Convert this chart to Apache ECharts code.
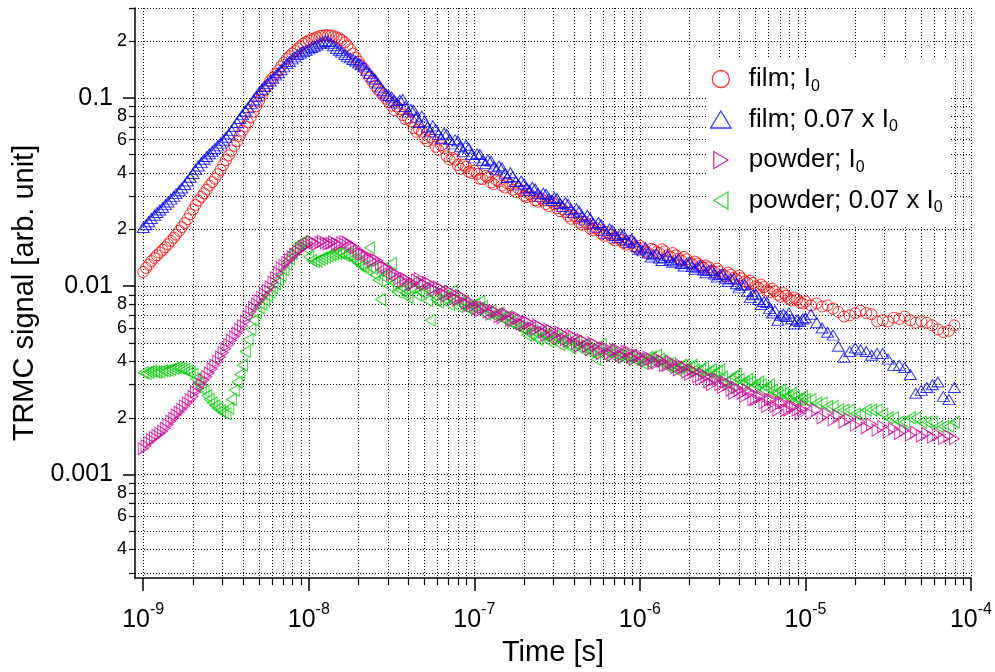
<!DOCTYPE html>
<html><head><meta charset="utf-8">
<script src="https://cdn.jsdelivr.net/npm/echarts@6/dist/echarts.min.js"></script>
<style>html,body{margin:0;padding:0;background:#fff}#chart{width:995px;height:672px}</style>
</head><body><div id="chart"></div>
<script>
// ---- data (time in ns, signal in arb. unit) ----
const timeNs = [1,1.08,1.17,1.26,1.36,1.47,1.58,1.71,1.85,2,2.15,2.33,2.51,2.71,2.93,3.16,3.41,3.69,3.98,4.3,4.64,5.01,5.41,5.84,6.31,6.81,7.36,7.94,8.58,9.26,
10,10.8,11.7,12.6,13.6,14.7,15.8,17.1,18.5,20,21.5,23.3,25.1,27.1,29.3,31.6,34.1,36.9,39.8,43,46.4,50.1,54.1,58.4,63.1,68.1,73.6,79.4,85.8,92.6,
100,108,117,126,136,147,158,171,185,200,215,233,251,271,293,316,341,369,398,430,464,501,541,584,631,681,736,794,858,926,
1000,1080,1170,1260,1360,1470,1580,1710,1850,2000,2150,2330,2510,2710,2930,3160,3410,3690,3980,4300,4640,5010,5410,5840,6310,6810,7360,7940,8580,9260,
10000,10800,11700,12600,13600,14700,15800,17100,18500,20000,21500,23300,25100,27100,29300,31600,34100,36900,39800,43000,46400,50100,54100,58400,63100,68100,73600,79400];

const filmI0 = [0.0119,0.0130,0.0141,0.0151,0.0161,0.0174,0.0188,0.0206,0.0227,0.0256,0.0285,0.0311,0.0342,0.0372,0.0415,0.0467,0.0525,0.0588,0.0670,0.0740,0.0845,0.0963,0.110,0.123,0.134,0.147,0.161,0.172,0.183,0.194,
0.202,0.207,0.213,0.215,0.214,0.210,0.203,0.190,0.172,0.156,0.143,0.128,0.116,0.107,0.099,0.091,0.090,0.081,0.078,0.069,0.068,0.061,0.062,0.055,0.056,0.049,0.048,0.044,0.044,0.0405,
0.0410,0.0372,0.0385,0.0355,0.0365,0.0342,0.0352,0.0325,0.0330,0.0302,0.0308,0.0286,0.0294,0.0273,0.0281,0.0259,0.0257,0.0236,0.0237,0.0218,0.0220,0.0202,0.0204,0.0190,0.0194,0.0179,0.0182,0.0170,0.0174,0.0162,
0.0164,0.0153,0.0158,0.0152,0.0157,0.0146,0.0150,0.0140,0.0143,0.0133,0.0135,0.0128,0.0129,0.0121,0.0124,0.0115,0.0118,0.0111,0.0114,0.0106,0.0107,0.0100,0.0102,0.0095,0.0097,0.0090,0.0092,0.0086,0.0087,0.0082,
0.0083,0.0079,0.0081,0.0078,0.0079,0.0076,0.0073,0.0069,0.0070,0.0072,0.0074,0.0072,0.0071,0.0065,0.0066,0.0065,0.0068,0.0067,0.0069,0.0066,0.0064,0.0065,0.0064,0.0062,0.0059,0.0057,0.0058,0.0062];

const film007 = [0.0205,0.0220,0.0238,0.0254,0.0271,0.0290,0.0310,0.0332,0.0362,0.0397,0.0435,0.0472,0.0505,0.0538,0.0575,0.0618,0.0670,0.0740,0.0815,0.0890,0.0975,0.107,0.115,0.123,0.132,0.141,0.152,0.161,0.170,0.176,
0.182,0.188,0.195,0.201,0.195,0.183,0.175,0.166,0.160,0.153,0.146,0.135,0.126,0.114,0.105,0.101,0.094,0.098,0.084,0.086,0.074,0.075,0.066,0.068,0.061,0.064,0.057,0.059,0.052,0.054,
0.048,0.050,0.0447,0.0462,0.0415,0.0425,0.0378,0.0382,0.0345,0.0350,0.0322,0.0328,0.0300,0.0308,0.0285,0.0292,0.0265,0.0272,0.0246,0.0250,0.0225,0.0230,0.0206,0.0212,0.0191,0.0198,0.0181,0.0188,0.0171,0.0172,
0.0157,0.0160,0.0143,0.0149,0.0137,0.0145,0.0134,0.0139,0.0128,0.0134,0.0123,0.0129,0.0118,0.0122,0.0112,0.0116,0.0106,0.0110,0.0098,0.0102,0.0087,0.0091,0.0080,0.0082,0.0072,0.0066,0.0071,0.0072,0.0063,0.0065,
0.0068,0.0071,0.0064,0.0060,0.0057,0.0055,0.0048,0.0042,0.0045,0.0047,0.0046,0.0045,0.0043,0.0044,0.0044,0.0041,0.0038,0.0038,0.0037,0.0034,0.0027,0.0028,0.0029,0.0030,0.0031,0.0026,0.0025,0.0029];

const powderI0 = [0.00137,0.00148,0.00157,0.00165,0.00176,0.00192,0.00207,0.00222,0.00240,0.00260,0.00288,0.00317,0.00346,0.00380,0.00421,0.00466,0.00515,0.00563,0.00616,0.00690,0.00770,0.00840,0.00910,0.00990,0.0111,0.0125,0.0134,0.0143,0.0153,0.0162,
0.0168,0.0170,0.0171,0.0170,0.0169,0.0168,0.0170,0.0171,0.0162,0.0153,0.0148,0.0140,0.0139,0.0131,0.0126,0.0115,0.0115,0.0106,0.0107,0.0103,0.0110,0.0102,0.0103,0.0095,0.0097,0.0089,0.0092,0.0085,0.0087,0.0079,
0.0079,0.0074,0.0077,0.0071,0.0073,0.0068,0.0071,0.0065,0.0068,0.0062,0.0064,0.0059,0.0061,0.0055,0.0058,0.0053,0.0056,0.0051,0.0054,0.0048,0.0051,0.0046,0.0049,0.0044,0.0047,0.0043,0.0046,0.0042,0.0045,0.0041,
0.0043,0.0040,0.0041,0.0039,0.0040,0.0038,0.0039,0.0036,0.0037,0.0034,0.0035,0.0032,0.0033,0.0030,0.0032,0.0029,0.0030,0.0027,0.0028,0.0026,0.0027,0.0025,0.0026,0.0023,0.0025,0.0022,0.0024,0.0022,0.0023,0.0021,
0.0023,0.0021,0.0022,0.0020,0.0021,0.00195,0.00205,0.0019,0.00197,0.00183,0.0019,0.00177,0.00185,0.00172,0.0018,0.00168,0.00175,0.00165,0.00172,0.00162,0.00168,0.0016,0.00165,0.00158,0.00163,0.00155,0.0016,0.00155];

const powder007 = [0.00347,0.00350,0.00352,0.00352,0.00355,0.00362,0.00370,0.00365,0.00355,0.00340,0.00305,0.00278,0.00250,0.00232,0.00218,0.00210,0.00250,0.00310,0.00380,0.00520,0.00660,0.00770,0.00840,0.00930,0.0103,0.0114,0.0131,0.0149,0.0166,0.0172,
0.0143,0.0135,0.0139,0.0143,0.0147,0.0149,0.0150,0.0148,0.0140,0.0132,0.0127,0.0160,0.0115,0.0085,0.0116,0.0132,0.0093,0.0098,0.0087,0.0105,0.0095,0.0098,0.0066,0.0085,0.0094,0.0088,0.0094,0.0078,0.0083,0.0076,
0.0080,0.0083,0.0071,0.0074,0.0070,0.0068,0.0069,0.0066,0.0061,0.0059,0.0056,0.0054,0.0057,0.0055,0.0052,0.0053,0.0051,0.0049,0.0050,0.0048,0.0049,0.0045,0.0041,0.0049,0.0045,0.0044,0.0043,0.0043,0.0042,0.0041,
0.0041,0.0040,0.0042,0.0043,0.0040,0.0038,0.0037,0.0037,0.0038,0.0037,0.0036,0.0036,0.0034,0.0036,0.0035,0.0033,0.0029,0.0033,0.0032,0.0031,0.0031,0.0030,0.0030,0.0029,0.0028,0.0027,0.0027,0.0026,0.0026,0.0025,
0.0025,0.0025,0.0024,0.0024,0.0023,0.0023,0.0022,0.0022,0.0022,0.0021,0.0021,0.0022,0.0022,0.0022,0.0021,0.0020,0.0020,0.0019,0.0019,0.0020,0.0020,0.0019,0.0019,0.0019,0.0018,0.0018,0.0018,0.0019];

// second, interleaved set of readings (1 ns - 10 us), where the recorded points are denser
const timeNsMid = [1.04,1.12,1.21,1.31,1.41,1.53,1.65,1.78,1.92,2.07,2.24,2.42,2.61,2.82,3.04,3.29,3.55,3.83,4.14,4.47,4.82,5.21,5.62,6.07,6.56,7.08,7.64,8.25,8.91,9.62,
10.4,11.2,12.1,13.1,14.1,15.3,16.5,17.8,19.2,20.7,22.4,24.2,26.1,28.2,30.4,32.9,35.5,38.3,41.4,44.7,48.2,52.1,56.2,60.7,65.6,70.8,76.4,82.5,89.1,96.2,
104,112,121,131,141,153,165,178,192,207,224,242,261,282,304,329,355,383,414,447,482,521,562,607,656,708,764,825,891,962,
1040,1120,1210,1310,1410,1530,1650,1780,1920,2070,2240,2420,2610,2820,3040,3290,3550,3830,4140,4470,4820,5210,5620,6070,6560,7080,7640,8250,8910,9620];

const filmI0Mid = [0.0125,0.0136,0.0146,0.0156,0.0167,0.0181,0.0197,0.0216,0.0241,0.0270,0.0298,0.0326,0.0357,0.0393,0.0440,0.0495,0.0556,0.0628,0.0704,0.0791,0.0902,0.103,0.116,0.128,0.140,0.154,0.166,0.177,0.188,0.198,
0.205,0.210,0.214,0.215,0.212,0.207,0.197,0.181,0.164,0.149,0.135,0.122,0.111,0.103,0.095,0.086,0.087,0.077,0.075,0.066,0.066,0.059,0.060,0.053,0.054,0.047,0.047,0.042,0.043,0.0398,
0.0395,0.0370,0.0378,0.0348,0.0360,0.0334,0.0345,0.0316,0.0322,0.0297,0.0300,0.0281,0.0285,0.0266,0.0272,0.0250,0.0248,0.0228,0.0230,0.0212,0.0213,0.0198,0.0199,0.0185,0.0188,0.0175,0.0176,0.0166,0.0169,0.0160,
0.0159,0.0150,0.0156,0.0150,0.0153,0.0143,0.0146,0.0137,0.0139,0.0131,0.0132,0.0125,0.0126,0.0119,0.0120,0.0113,0.0115,0.0109,0.0110,0.0104,0.0104,0.0098,0.0099,0.0093,0.0094,0.0088,0.0089,0.0084,0.0085,0.0081];

const film007Mid = [0.0212,0.0229,0.0246,0.0262,0.0280,0.0300,0.0321,0.0347,0.0379,0.0416,0.0453,0.0488,0.0521,0.0556,0.0596,0.0643,0.0704,0.0777,0.0852,0.0932,0.102,0.111,0.119,0.127,0.136,0.146,0.156,0.165,0.173,0.179,
0.185,0.191,0.198,0.199,0.189,0.179,0.170,0.163,0.157,0.150,0.140,0.130,0.120,0.109,0.103,0.097,0.097,0.090,0.087,0.079,0.080,0.070,0.071,0.064,0.065,0.060,0.060,0.055,0.056,0.050,
0.0505,0.0465,0.0470,0.0430,0.0435,0.0395,0.0400,0.0360,0.0362,0.0332,0.0335,0.0310,0.0312,0.0292,0.0296,0.0275,0.0278,0.0255,0.0258,0.0234,0.0238,0.0215,0.0218,0.0198,0.0202,0.0186,0.0190,0.0176,0.0178,0.0162,
0.0154,0.0150,0.0147,0.0141,0.0142,0.0138,0.0136,0.0132,0.0132,0.0127,0.0126,0.0122,0.0121,0.0116,0.0115,0.0110,0.0109,0.0103,0.0101,0.0094,0.0090,0.0085,0.0083,0.0076,0.0074,0.0070,0.0069,0.0067,0.0066,0.0067];

const powderI0Mid = [0.00142,0.00153,0.00161,0.00170,0.00184,0.00199,0.00214,0.00231,0.00250,0.00274,0.00302,0.00331,0.00363,0.00400,0.00443,0.00490,0.00539,0.00589,0.00652,0.00730,0.00805,0.00875,0.00950,0.0105,0.0118,0.0129,0.0138,0.0148,0.0157,0.0165,
0.0172,0.0167,0.0173,0.0168,0.0172,0.0166,0.0173,0.0166,0.0160,0.0148,0.0146,0.0136,0.0137,0.0127,0.0122,0.0118,0.0110,0.0110,0.0102,0.0108,0.0104,0.0105,0.0097,0.0099,0.0091,0.0094,0.0086,0.0089,0.0081,0.0082,
0.0076,0.0077,0.0073,0.0074,0.0069,0.0071,0.0066,0.0068,0.0063,0.0065,0.0060,0.0062,0.0057,0.0059,0.0055,0.0057,0.0052,0.0055,0.0050,0.0052,0.0048,0.0050,0.0046,0.0047,0.0044,0.0046,0.0043,0.0045,0.0042,0.0043,
0.0041,0.0042,0.0039,0.0041,0.0038,0.0040,0.0037,0.0038,0.0035,0.0036,0.0033,0.0034,0.0031,0.0032,0.0030,0.0031,0.0028,0.0029,0.0027,0.0028,0.0025,0.0026,0.0024,0.0025,0.0023,0.0024,0.0022,0.0023,0.0022,0.0022];

const powder007Mid = [0.00345,0.00353,0.00350,0.00356,0.00358,0.00366,0.00368,0.00360,0.00348,0.00322,0.00290,0.00262,0.00240,0.00224,0.00213,0.00225,0.00280,0.00340,0.00450,0.00590,0.00720,0.00800,0.00890,0.00980,0.0108,0.0122,0.0140,0.0157,0.0170,0.0158,
0.0137,0.0136,0.0141,0.0145,0.0148,0.0150,0.0146,0.0144,0.0136,0.0128,0.0122,0.0124,0.0108,0.0112,0.0100,0.0104,0.0096,0.0092,0.0098,0.0090,0.0092,0.0084,0.0090,0.0082,0.0086,0.0080,0.0084,0.0081,0.0077,0.0079,
0.0076,0.0078,0.0073,0.0070,0.0072,0.0066,0.0064,0.0062,0.0060,0.0055,0.0058,0.0052,0.0055,0.0051,0.0054,0.0049,0.0052,0.0047,0.0051,0.0046,0.0047,0.0044,0.0046,0.0043,0.0046,0.0042,0.0044,0.0041,0.0043,0.0040,
0.0039,0.0042,0.0040,0.0041,0.0038,0.0039,0.0036,0.0038,0.0036,0.0038,0.0035,0.0037,0.0035,0.0034,0.0036,0.0031,0.0032,0.0034,0.0030,0.0032,0.0029,0.0031,0.0028,0.0030,0.0027,0.0028,0.0026,0.0027,0.0025,0.0026];

const seriesNames = ['film; I0', 'film; 0.07 x I0', 'powder; I0', 'powder; 0.07 x I0'];

// ---- axes ----
const xMajorTicks = [1e-9, 1e-8, 1e-7, 1e-6, 1e-5, 1e-4];
const xMinorTicks = [2e-9,3e-9,4e-9,5e-9,6e-9,7e-9,8e-9,9e-9,2e-8,3e-8,4e-8,5e-8,6e-8,7e-8,8e-8,9e-8,
  2e-7,3e-7,4e-7,5e-7,6e-7,7e-7,8e-7,9e-7,2e-6,3e-6,4e-6,5e-6,6e-6,7e-6,8e-6,9e-6,2e-5,3e-5,4e-5,5e-5,6e-5,7e-5,8e-5,9e-5];
const yMajorTicks = [0.001, 0.01, 0.1];
const yMajorLabels = ['0.001', '0.01', '0.1'];
const yMinorTicks = [0.0003,0.0004,0.0005,0.0006,0.0007,0.0008,0.0009,0.002,0.003,0.004,0.005,0.006,0.007,0.008,0.009,
  0.02,0.03,0.04,0.05,0.06,0.07,0.08,0.09,0.2,0.3];
const yMinorLabelTicks = [0.0004,0.0006,0.0008,0.002,0.004,0.006,0.008,0.02,0.04,0.06,0.08,0.2];
const xRange = [8.92e-10, 1e-4];
const yRange = [0.000282, 0.3];

const L = Math.log10;
const FONT = 'Liberation Sans, Arial, Helvetica, sans-serif';
const grid = {color: '#000', width: 1, type: [1, 2]};

function toPairs(times, vals) { return times.map((t, i) => [L(t * 1e-9), L(vals[i])]); }
function both(main, mid) { return toPairs(timeNs, main).concat(toPairs(timeNsMid, mid)); }

const xCommon = {type: 'value', min: L(xRange[0]), max: L(xRange[1]), position: 'bottom', gridIndex: 0};
const yCommon = {type: 'value', min: L(yRange[0]), max: L(yRange[1]), position: 'left', gridIndex: 0};
const hollow = c => ({color: 'rgba(255,255,255,0)', borderColor: c, borderWidth: 1});

const chart = echarts.init(document.getElementById('chart'), null, {renderer: 'canvas'});
chart.setOption({
  animation: false,
  backgroundColor: '#fff',
  grid: {left: 135, right: 24, top: 8, bottom: 88, containLabel: false},
  xAxis: [
    Object.assign({}, xCommon, {
      axisLine: {show: true, onZero: false, lineStyle: {color: '#000', width: 1.5}},
      axisTick: {show: true, length: 7, customValues: xMinorTicks.map(L), lineStyle: {color: '#000', width: 1.2}},
      axisLabel: {show: false},
      splitLine: {show: true, lineStyle: grid}
    }),
    Object.assign({}, xCommon, {
      axisLine: {show: false, onZero: false},
      axisTick: {show: true, length: 13, customValues: xMajorTicks.map(L), lineStyle: {color: '#000', width: 1.5}},
      axisLabel: {
        show: true, customValues: xMajorTicks.map(L), margin: 23,
        formatter: v => '{b|10}{e|' + Math.round(v) + '}',
        rich: {
          b: {fontSize: 25, fontFamily: FONT, color: '#000', verticalAlign: 'bottom'},
          e: {fontSize: 16, fontFamily: FONT, color: '#000', verticalAlign: 'top', padding: [0, 0, 16, 0]}
        }
      },
      splitLine: {show: true, lineStyle: grid},
      name: 'Time [s]', nameLocation: 'middle', nameGap: 52,
      nameTextStyle: {fontSize: 29, fontFamily: FONT, color: '#000'}
    })
  ],
  yAxis: [
    Object.assign({}, yCommon, {
      axisLine: {show: true, onZero: false, lineStyle: {color: '#000', width: 1.5}},
      axisTick: {show: true, length: 6, customValues: yMinorTicks.map(L), lineStyle: {color: '#000', width: 1.2}},
      axisLabel: {
        show: true, customValues: yMinorLabelTicks.map(L), margin: 8,
        fontSize: 18, fontFamily: FONT, color: '#000',
        formatter: v => String(Math.round(Math.pow(10, v - Math.floor(v + 1e-9))))
      },
      splitLine: {show: true, lineStyle: grid}
    }),
    Object.assign({}, yCommon, {
      axisLine: {show: false, onZero: false},
      axisTick: {show: true, length: 12, customValues: yMajorTicks.map(L), lineStyle: {color: '#000', width: 1.5}},
      axisLabel: {
        show: true, customValues: yMajorTicks.map(L), margin: 22,
        fontSize: 25, fontFamily: FONT, color: '#000',
        formatter: v => { const i = yMajorTicks.findIndex(t => Math.abs(L(t) - v) < 1e-6); return i >= 0 ? yMajorLabels[i] : ''; }
      },
      splitLine: {show: true, lineStyle: grid},
      name: 'TRMC signal [arb. unit]', nameLocation: 'middle', nameGap: 92,
      nameTextStyle: {fontSize: 29, fontFamily: FONT, color: '#000'}
    })
  ],
  legend: {
    data: seriesNames, orient: 'vertical', left: 708, top: 57,
    padding: [9, 8, 9, 2], itemWidth: 30, itemHeight: 17, itemGap: 12,
    backgroundColor: '#fff', borderWidth: 0, selectedMode: false,
    itemStyle: {borderWidth: 1.3},
    formatter: n => n.replace(/I0$/, 'I{s|0}'),
    textStyle: {
      fontSize: 26, fontFamily: FONT, color: '#000', padding: [0, 0, 0, 8],
      rich: {s: {fontSize: 16, fontFamily: FONT, color: '#000', padding: [15, 0, 0, 0]}}
    }
  },
  series: [
    {name: seriesNames[0], type: 'scatter', data: both(filmI0, filmI0Mid), symbol: 'circle', symbolSize: 11,
      itemStyle: hollow('#ff0000'), emphasis: {disabled: true}},
    {name: seriesNames[1], type: 'scatter', data: both(film007, film007Mid), symbol: 'path://M6,0L12,10L0,10Z', symbolSize: [12, 10],
      itemStyle: hollow('#0000ff'), emphasis: {disabled: true}},
    {name: seriesNames[3], type: 'scatter', data: both(powder007, powder007Mid), symbol: 'path://M10,0L0,6L10,12Z', symbolSize: [10, 12],
      itemStyle: hollow('#00cc00'), emphasis: {disabled: true}},
    {name: seriesNames[2], type: 'scatter', data: both(powderI0, powderI0Mid), symbol: 'path://M0,0L10,6L0,12Z', symbolSize: [10, 12],
      itemStyle: hollow('#cc0099'), emphasis: {disabled: true}}
  ]
});
</script></body></html>
